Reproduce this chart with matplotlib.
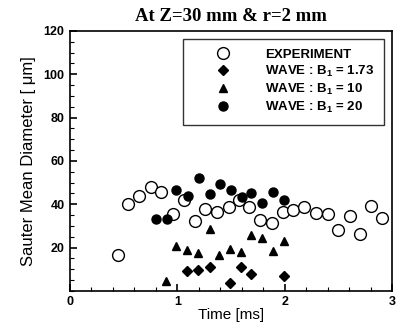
import matplotlib
matplotlib.use("Agg")
import matplotlib.pyplot as plt
from matplotlib.ticker import MultipleLocator

# Experiment (open circles)
exp_t = [0.45, 0.54, 0.64, 0.75, 0.85, 0.96, 1.06, 1.16, 1.26, 1.37, 1.48, 1.57, 1.67,
         1.77, 1.88, 1.98, 2.08, 2.18, 2.29, 2.40, 2.50, 2.61, 2.70, 2.80, 2.91]
exp_d = [16.7, 40.3, 43.9, 47.8, 45.7, 35.3, 41.9, 32.1, 37.7, 36.4, 38.5, 41.9, 38.8,
         32.6, 31.5, 36.4, 37.2, 38.5, 36.0, 35.3, 27.9, 34.6, 26.4, 39.2, 33.8]

# WAVE B1 = 1.73 (diamonds)
b173_t = [1.09, 1.19, 1.30, 1.49, 1.59, 1.69, 1.99]
b173_d = [9.3, 9.8, 11.2, 3.6, 10.8, 8.0, 6.7]

# WAVE B1 = 10 (triangles)
b10_t = [0.89, 0.99, 1.09, 1.19, 1.30, 1.39, 1.49, 1.59, 1.69, 1.79, 1.89, 1.99]
b10_d = [4.7, 20.5, 18.9, 17.5, 28.7, 16.6, 19.4, 17.8, 26.0, 24.5, 18.3, 22.8]

# WAVE B1 = 20 (filled circles)
b20_t = [0.80, 0.90, 0.99, 1.10, 1.20, 1.30, 1.40, 1.50, 1.60, 1.69, 1.79, 1.89, 1.99]
b20_d = [33.3, 33.3, 46.5, 43.7, 51.9, 44.5, 49.3, 46.5, 43.4, 45.0, 40.6, 45.7, 41.9]

x_ticks = [0, 1, 2, 3]
y_ticks = [20, 40, 60, 80, 100, 120]

fig = plt.figure(figsize=(4, 3.25), dpi=100)
ax = fig.add_axes([0.175, 0.105, 0.805, 0.8])

ax.plot(exp_t, exp_d, 'o', ms=8.5, mfc='white', mec='black', mew=1.0, ls='none',
        label='EXPERIMENT')
ax.plot(b173_t, b173_d, 'D', ms=5, color='black', ls='none',
        label=r'WAVE : B$_\mathregular{1}$ = 1.73')
ax.plot(b10_t, b10_d, '^', ms=5.5, color='black', ls='none',
        label=r'WAVE : B$_\mathregular{1}$ = 10')
ax.plot(b20_t, b20_d, 'o', ms=6.5, color='black', ls='none',
        label=r'WAVE : B$_\mathregular{1}$ = 20')

ax.set_xlim(0, 3)
ax.set_ylim(0, 120)
ax.set_xticks(x_ticks)
ax.set_yticks(y_ticks)
ax.xaxis.set_minor_locator(MultipleLocator(0.2))
ax.yaxis.set_minor_locator(MultipleLocator(5))
ax.tick_params(which='both', direction='in', top=False, right=False)
ax.tick_params(which='major', length=5, width=1.2, labelsize=9, pad=4)
ax.tick_params(which='minor', length=3, width=0.8)
for lab in ax.get_xticklabels() + ax.get_yticklabels():
    lab.set_fontweight('bold')
    lab.set_family('Liberation Sans')
for s in ax.spines.values():
    s.set_linewidth(1.2)

ax.set_xlabel('Time [ms]', fontsize=11, family='Liberation Sans', labelpad=0)
ax.set_ylabel('Sauter Mean Diameter [ μm]', fontsize=12, family='Liberation Sans', labelpad=5)
ax.set_title('At Z=30 mm & r=2 mm', fontsize=13.5, fontweight='bold',
             family='Liberation Serif', pad=7)

leg = ax.legend(loc='upper right', bbox_to_anchor=(0.976, 0.97), frameon=True,
                fancybox=False, edgecolor='black', fontsize=9.5, handletextpad=0.9,
                borderpad=0.75, labelspacing=0.22, handlelength=4.6, borderaxespad=0)
leg.get_frame().set_linewidth(1.0)
for t in leg.get_texts():
    t.set_family('Liberation Sans')
    t.set_fontweight('bold')

fig.savefig('out.png', dpi=100)
